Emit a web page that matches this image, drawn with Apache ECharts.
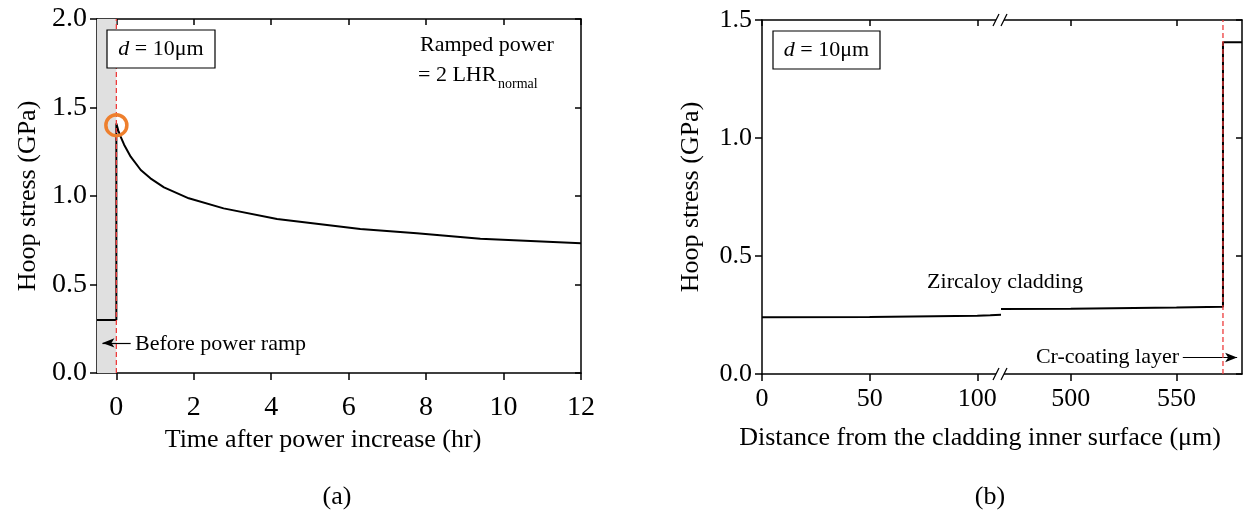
<!DOCTYPE html>
<html>
<head>
<meta charset="utf-8">
<script src="https://cdn.jsdelivr.net/npm/echarts@6/dist/echarts.min.js"></script>
<style>html,body{margin:0;padding:0;background:#fff}#c{width:1243px;height:517px}</style>
</head>
<body>
<div id="c"></div>
<script>
// ---- data (a) ----
const timeHr = [-0.5, 0, 0, 0.05, 0.11, 0.2, 0.37, 0.63, 0.88, 1.23, 1.87, 2.77, 4.15, 6.3, 7.76, 9.4, 12];
const stressA = [0.30, 0.30, 1.41, 1.37, 1.335, 1.29, 1.222, 1.147, 1.10, 1.049, 0.987, 0.930, 0.870, 0.814, 0.789, 0.759, 0.733];
const peakPoint = [0, 1.40];
const rampTime = 0;
const timeTicks = [0, 2, 4, 6, 8, 10, 12];
// ---- data (b) ----
const distSeg1 = [0, 50, 100, 106, 111];
const stressSeg1 = [0.240, 0.242, 0.247, 0.249, 0.251];
const distSeg2 = [467, 500, 550, 572, 572, 581];
const stressSeg2 = [0.275, 0.277, 0.282, 0.285, 1.406, 1.406];
const distTicks1 = [0, 50, 100];
const distTicks2 = [500, 550];
const coatingStart = 572;

const FONT = "'Liberation Serif','Times New Roman',serif";
const BLACK = '#000';
const chart = echarts.init(document.getElementById('c'), null, {renderer: 'canvas', width: 1243, height: 517});

function zip(a, b) { return a.map((v, i) => [v, b[i]]); }

const axisLine = {show: true, onZero: false, lineStyle: {color: BLACK, width: 1.5}};
function labelStyle(fs) { return {color: BLACK, fontFamily: FONT, fontSize: fs}; }
const nameStyle = {color: BLACK, fontFamily: FONT, fontSize: 26};

function xMain(grid, min, max, ticks, fs, margin) {
  return {
    type: 'value', gridIndex: grid, position: 'bottom', min: min, max: max,
    axisLine: axisLine, splitLine: {show: false},
    axisTick: {show: true, inside: false, length: 7, customValues: ticks, lineStyle: {color: BLACK, width: 1.5}},
    axisLabel: Object.assign({customValues: ticks, margin: margin}, labelStyle(fs))
  };
}
function xMirror(grid, min, max, ticks) {
  return {
    type: 'value', gridIndex: grid, position: 'top', min: min, max: max,
    axisLine: axisLine, splitLine: {show: false},
    axisTick: {show: true, inside: true, length: 6, customValues: ticks, lineStyle: {color: BLACK, width: 1.5}},
    axisLabel: {show: false, customValues: ticks}
  };
}
function yMain(grid, max, gap, fs) {
  return {
    type: 'value', gridIndex: grid, position: 'left', min: 0, max: max, interval: 0.5,
    axisLine: axisLine, splitLine: {show: false},
    axisTick: {show: true, inside: false, length: 7, lineStyle: {color: BLACK, width: 1.5}},
    axisLabel: Object.assign({margin: 10, formatter: v => v.toFixed(1)}, labelStyle(fs)),
    name: 'Hoop stress (GPa)', nameLocation: 'middle', nameGap: gap, nameTextStyle: nameStyle
  };
}
function yMirror(grid, max) {
  return {
    type: 'value', gridIndex: grid, position: 'right', min: 0, max: max, interval: 0.5,
    axisLine: axisLine, splitLine: {show: false},
    axisTick: {show: true, inside: true, length: 6, lineStyle: {color: BLACK, width: 1.5}},
    axisLabel: {show: false}
  };
}

const redDash = {color: '#ee3b3b', width: 1.3, type: [5, 3]};
const arrowStyle = {color: BLACK, width: 1.2, type: 'solid'};

function breakMarks(x, y) {
  return [
    {type: 'rect', shape: {x: x - 5, y: y - 2, width: 8, height: 4}, style: {fill: '#fff'}, z: 100},
    {type: 'line', shape: {x1: x - 8, y1: y + 6, x2: x - 2, y2: y - 6}, style: {stroke: BLACK, lineWidth: 1.3}, z: 101},
    {type: 'line', shape: {x1: x, y1: y + 6, x2: x + 6, y2: y - 6}, style: {stroke: BLACK, lineWidth: 1.3}, z: 101}
  ];
}

function dBox(x, y, w, h) {
  return [
    {type: 'rect', shape: {x: x, y: y, width: w, height: h}, style: {fill: '#fff', stroke: BLACK, lineWidth: 1.2}, z: 50},
    {type: 'text', x: x + w / 2, y: y + h / 2, z: 51,
      style: {text: '{i|d} = 10μm', align: 'center', verticalAlign: 'middle', fontFamily: FONT, fontSize: 22, fill: BLACK,
        rich: {i: {fontStyle: 'italic', fontFamily: FONT, fontSize: 22, fill: BLACK}}}}
  ];
}

function txt(x, y, s, fs, align) {
  return {type: 'text', x: x, y: y, style: {text: s, fontFamily: FONT, fontSize: fs, fill: BLACK, align: align || 'left', verticalAlign: 'middle'}};
}

const graphics = [].concat(
  [{type: 'rect', shape: {x: 104, y: 0, width: 26, height: 17.5}, style: {fill: '#fff'}, z: 200}],
  dBox(107, 30, 108, 38),
  dBox(773, 31, 107, 38),
  breakMarks(1001, 374),
  breakMarks(1001, 20),
  [
    txt(420, 45, 'Ramped power', 22),
    txt(418, 75, '= 2 LHR', 22),
    txt(498, 84, 'normal', 14),
    txt(135, 344, 'Before power ramp', 22),
    txt(1005, 282, 'Zircaloy cladding', 22, 'center'),
    txt(1179, 357, 'Cr-coating layer', 22, 'right'),
    txt(323, 440, 'Time after power increase (hr)', 26, 'center'),
    txt(980, 438, 'Distance from the cladding inner surface (μm)', 26, 'center'),
    txt(337, 497, '(a)', 26, 'center'),
    txt(990, 497, '(b)', 26, 'center')
  ]
);

const option = {
  animation: false,
  backgroundColor: '#fff',
  grid: [
    {left: 97, top: 19, width: 484, height: 354},
    {left: 762, top: 20, width: 239, height: 354},
    {left: 1001, top: 20, width: 241, height: 354}
  ],
  xAxis: [
    xMain(0, -0.5, 12, timeTicks, 28, 21),
    xMirror(0, -0.5, 12, timeTicks),
    xMain(1, 0, 111, distTicks1, 26, 12),
    xMirror(1, 0, 111, distTicks1),
    xMain(2, 467, 581, distTicks2, 26, 12),
    xMirror(2, 467, 581, distTicks2)
  ],
  yAxis: [
    yMain(0, 2.0, 56, 28),
    yMirror(0, 2.0),
    yMain(1, 1.5, 58, 26),
    yMirror(2, 1.5)
  ],
  series: [
    {
      type: 'line', xAxisIndex: 0, yAxisIndex: 0, data: zip(timeHr, stressA),
      showSymbol: false, symbol: 'none', lineStyle: {color: BLACK, width: 2}, z: 3,
      markArea: {silent: true, itemStyle: {color: '#e0e0e0'}, data: [[{xAxis: -0.5}, {xAxis: 0}]]},
      markLine: {
        silent: true, symbol: ['none', 'none'], label: {show: false}, z: 5,
        data: [
          [{coord: [0.37, 0.17], symbol: 'none', lineStyle: arrowStyle}, {coord: [-0.36, 0.17], symbol: 'arrow', symbolSize: [7, 12]}]
        ]
      }
    },
    {
      type: 'line', xAxisIndex: 0, yAxisIndex: 0, data: [[rampTime, 0], [rampTime, 2.0]],
      showSymbol: false, symbol: 'none', lineStyle: redDash, z: 5
    },
    {
      type: 'scatter', xAxisIndex: 0, yAxisIndex: 0, data: [peakPoint], symbol: 'circle', symbolSize: 21,
      itemStyle: {color: 'rgba(0,0,0,0)', borderColor: '#ee7f2d', borderWidth: 3.5, opacity: 1}, z: 6
    },
    {
      type: 'line', xAxisIndex: 2, yAxisIndex: 2, data: zip(distSeg1, stressSeg1),
      showSymbol: false, symbol: 'none', lineStyle: {color: BLACK, width: 2}
    },
    {
      type: 'line', xAxisIndex: 4, yAxisIndex: 3, data: zip(distSeg2, stressSeg2),
      showSymbol: false, symbol: 'none', lineStyle: {color: BLACK, width: 2}, z: 3,
      markLine: {
        silent: true, symbol: ['none', 'none'], label: {show: false}, z: 5,
        data: [
          [{coord: [553, 0.07], symbol: 'none', lineStyle: arrowStyle}, {coord: [578.7, 0.07], symbol: 'arrow', symbolSize: [7, 12]}]
        ]
      }
    },
    {
      type: 'line', xAxisIndex: 4, yAxisIndex: 3, data: [[coatingStart, 0], [coatingStart, 1.5]],
      showSymbol: false, symbol: 'none', lineStyle: redDash, z: 5
    }
  ],
  graphic: graphics
};
chart.setOption(option);
</script>
</body>
</html>
